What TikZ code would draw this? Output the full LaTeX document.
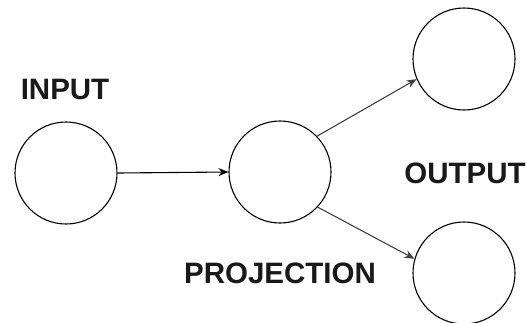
\documentclass[tikz,border=0pt]{standalone}
\usepackage{fontspec}
\setmainfont{Liberation Sans}
\usetikzlibrary{arrows.meta}
\begin{document}
\begin{tikzpicture}[x=1pt,y=-1pt,
  circ/.style={circle,draw=black,line width=1.1pt,minimum size=102pt,inner sep=0pt},
  lbl/.style={font=\fontsize{29.5}{31}\selectfont\bfseries,inner sep=0pt,text=black!90},
  conn/.style={line width=1.1pt,-{Stealth[length=10pt,width=8pt]}}]
\useasboundingbox (0,0) rectangle (526,322);
\node[circ] (in) at (66,173) {};
\node[circ] (proj) at (280,172) {};
\node[circ] (out1) at (464,59) {};
\node[circ] (out2) at (464,273) {};
\node[lbl] (tin) at (65,89) {INPUT};
\node[lbl] (tout) at (465,173) {OUTPUT};
\node[lbl] (tproj) at (280,273) {PROJECTION};
\draw[conn,black] (in.east) -- (proj.west);
\draw[conn,black!75] (proj.44) -- (out1.203);
\draw[conn,black!75] (proj.-43) -- (out2.164);
\end{tikzpicture}
\end{document}
